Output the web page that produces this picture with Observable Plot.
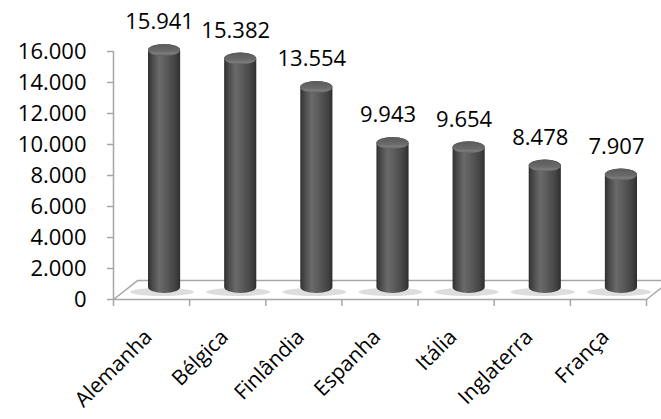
<!DOCTYPE html>
<html>
<head>
<meta charset="utf-8">
<script src="https://cdn.jsdelivr.net/npm/d3@7"></script>
<script src="https://cdn.jsdelivr.net/npm/@observablehq/plot@0.6"></script>
<style>
  html, body { margin: 0; padding: 0; background: #fff; }
  svg { display: block; }
</style>
</head>
<body>
<div id="chart"></div>
<script>
const categories = ["Alemanha", "Bélgica", "Finlândia", "Espanha", "Itália", "Inglaterra", "França"];
const values = [15941, 15382, 13554, 9943, 9654, 8478, 7907];
const yTicks = [0, 2000, 4000, 6000, 8000, 10000, 12000, 14000, 16000];

const ptBR = d3.formatLocale({decimal: ",", thousands: ".", grouping: [3]});
const fmt = ptBR.format(",d");

const data = categories.map((c, i) => ({i, cat: c, value: values[i]}));

// 3D floor depth (fraction of a category band, and value units)
const depthX = 0.32;
const depthY = 1230;
const n = categories.length;
const floor = [
  {x: 0, y: 0}, {x: n, y: 0}, {x: n + depthX, y: depthY},
  {x: depthX, y: depthY}, {x: 0, y: 0}
];

const grey = "#a6a6a6";
const font = "Open Sans";

const chart = Plot.plot({
  width: 661,
  height: 419,
  marginLeft: 113,
  marginRight: 15,
  marginTop: 51,
  marginBottom: 120,
  style: {fontFamily: font, background: "white", overflow: "hidden"},
  x: {type: "linear", domain: [0, n], axis: null, label: null},
  y: {domain: [0, 16000], axis: null, label: null},
  marks: [
    // floor
    Plot.line(floor, {x: "x", y: "y", stroke: grey, strokeWidth: 1.5}),
    // y axis line
    Plot.ruleX([0], {y1: 0, y2: 16000, stroke: grey, strokeWidth: 1.5}),
    Plot.axisY(yTicks, {tickFormat: fmt, tickSize: 6, tickPadding: 21, stroke: grey, fill: "black", fontSize: 22, strokeWidth: 1.5, label: null}),
    Plot.axisX(d3.range(n + 1), {tickFormat: () => "", tickSize: 7, stroke: grey, strokeWidth: 1.5, label: null}),
    // shadows on floor
    Plot.rectY(data, {x1: d => d.i, x2: d => d.i + 1, y1: 0, y2: 0, insetLeft: 4, insetRight: 8,
      insetTop: -4, insetBottom: -4, dx: 13, dy: -7, rx: 34, ry: 4, fill: "#d4d4d4", fillOpacity: 0.8}),
    // cylinders
    Plot.rectY(data, {x1: d => d.i, x2: d => d.i + 1, y1: 0, y2: "value", insetLeft: 22, insetRight: 22,
      insetBottom: -2, dx: 13, dy: -8, rx: 16, ry: 6, fill: "url(#cyl)"}),
    // caps
    Plot.rectY(data, {x1: d => d.i, x2: d => d.i + 1, y1: "value", y2: "value", insetLeft: 22, insetRight: 22,
      insetTop: -6, insetBottom: -6, dx: 13, dy: -2, rx: 16, ry: 6, fill: "url(#cap)"}),
    // value labels
    Plot.text(data, {x: d => d.i + 0.5, y: "value", text: d => fmt(d.value), dx: 8, dy: -30,
      fontSize: 22, fill: "black"}),
    // category labels
    Plot.text(data, {x: d => d.i + 0.5, y: 0, text: "cat", rotate: -45, textAnchor: "end",
      dx: -3, dy: 34, fontSize: 21, fill: "black"})
  ]
});

d3.select(chart).insert("defs", ":first-child").html(`
  <linearGradient id="cyl" x1="0" x2="1" y1="0" y2="0">
    <stop offset="0" stop-color="#303030"/>
    <stop offset="0.12" stop-color="#474747"/>
    <stop offset="0.35" stop-color="#6a6a6a"/>
    <stop offset="0.55" stop-color="#5c5c5c"/>
    <stop offset="0.85" stop-color="#434343"/>
    <stop offset="1" stop-color="#2e2e2e"/>
  </linearGradient>
  <linearGradient id="cap" x1="0" x2="0" y1="0" y2="1">
    <stop offset="0" stop-color="#5a5a5a"/>
    <stop offset="0.6" stop-color="#6a6a6a"/>
    <stop offset="0.8" stop-color="#7c7c7c"/>
    <stop offset="1" stop-color="#5e5e5e"/>
  </linearGradient>
`);

document.getElementById("chart").appendChild(chart);
</script>
</body>
</html>
